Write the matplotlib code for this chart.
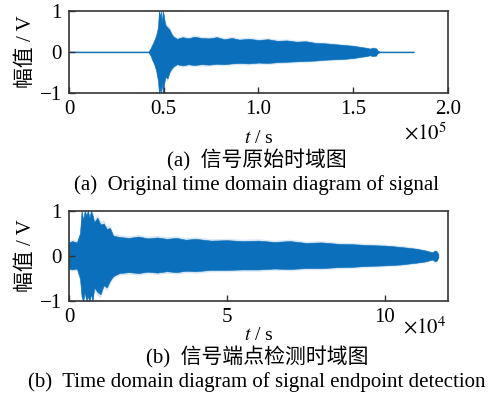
import numpy as np
from matplotlib import pyplot as plt

plt.rcParams['font.family'] = ['Liberation Serif', 'Noto Sans CJK SC']
plt.rcParams['mathtext.fontset'] = 'stix'

# (a) original signal, time in units of 1e5 s, envelope
t_a = [0, 0.42, 0.43, 0.44, 0.45, 0.46, 0.47, 0.475, 0.48, 0.485, 0.49, 0.495,
       0.50, 0.505, 0.51, 0.52, 0.53, 0.54, 0.55, 0.57, 0.60, 0.63, 0.66, 0.70,
       0.74, 0.78, 0.82, 0.86, 0.90, 0.95, 1.00, 1.05, 1.10, 1.15, 1.20, 1.25,
       1.30, 1.35, 1.40, 1.45, 1.50, 1.54, 1.57, 1.59, 1.60, 1.62, 1.63, 1.64, 1.82]
up_a = [0.01, 0.01, 0.08, 0.18, 0.28, 0.4, 0.6, 1.0, 0.85, 1.0, 0.7, 1.0,
        0.9, 0.75, 0.65, 0.6, 0.55, 0.45, 0.38, 0.32, 0.36, 0.33, 0.37, 0.34,
        0.33, 0.36, 0.31, 0.34, 0.30, 0.32, 0.29, 0.31, 0.27, 0.28, 0.25, 0.26,
        0.22, 0.21, 0.19, 0.17, 0.15, 0.12, 0.10, 0.08, 0.10, 0.09, 0.03, 0.01, 0.01]
lo_a = [-0.01, -0.01, -0.08, -0.2, -0.3, -0.45, -0.7, -1.0, -0.9, -1.0, -0.75, -1.0,
        -0.85, -0.7, -0.6, -0.65, -0.5, -0.42, -0.36, -0.30, -0.33, -0.30, -0.32, -0.30,
        -0.31, -0.29, -0.30, -0.28, -0.27, -0.28, -0.26, -0.27, -0.25, -0.24, -0.23, -0.22,
        -0.21, -0.19, -0.18, -0.17, -0.15, -0.12, -0.10, -0.08, -0.10, -0.09, -0.03, -0.01, -0.01]

# (b) after endpoint detection, time in units of 1e4 s
t_b = [0, 0.1, 0.25, 0.35, 0.4, 0.45, 0.5, 0.55, 0.6, 0.65, 0.7, 0.75, 0.8, 0.9,
       1.0, 1.1, 1.2, 1.3, 1.4, 1.6, 1.9, 2.2, 2.5, 2.8, 3.1, 3.4, 3.7, 4.0, 4.5,
       5.0, 5.5, 6.0, 6.5, 7.0, 7.5, 8.0, 8.5, 9.0, 9.5, 10.0, 10.5, 11.0, 11.3,
       11.5, 11.6, 11.65, 11.7]
up_b = [0.3, 0.33, 0.3, 0.5, 1.0, 0.8, 1.0, 0.9, 1.0, 0.85, 1.0, 0.9, 0.75, 0.85,
        0.7, 0.72, 0.6, 0.62, 0.45, 0.42, 0.40, 0.43, 0.39, 0.41, 0.38, 0.40, 0.36,
        0.38, 0.34, 0.35, 0.33, 0.34, 0.31, 0.33, 0.29, 0.30, 0.27, 0.26, 0.24, 0.23,
        0.20, 0.16, 0.12, 0.08, 0.12, 0.10, 0.03]
lo_b = [-0.28, -0.3, -0.28, -0.5, -0.9, -1.0, -0.8, -1.0, -0.9, -1.0, -0.85, -1.0,
        -0.7, -0.8, -0.85, -0.65, -0.7, -0.55, -0.45, -0.38, -0.36, -0.38, -0.35, -0.37,
        -0.34, -0.36, -0.33, -0.34, -0.31, -0.31, -0.30, -0.30, -0.28, -0.29, -0.27,
        -0.27, -0.25, -0.24, -0.22, -0.21, -0.19, -0.15, -0.12, -0.08, -0.12, -0.10, -0.03]

xticks_a = [0, 0.5, 1.0, 1.5, 2.0]
xticklabels_a = ['0', '0.5', '1.0', '1.5', '2.0']
xticks_b = [0, 5, 10]
yticks = [-1, 0, 1]
yticklabels = ['\u22121', '0', '1']

blue = '#0b6fbb'
halo = '#d9e8f5'


def style_axes(ax):
    for s in ax.spines.values():
        s.set_color('#333333')
        s.set_linewidth(1.2)
    ax.tick_params(direction='in', length=4, width=1, color='#333333',
                   labelsize=15, pad=5)
    ax.set_ylim(-1, 1)
    ax.set_yticks(yticks)
    ax.set_yticklabels(yticklabels)
    ax.set_ylabel('幅值 / V', fontsize=15, labelpad=3)


def draw_signal(ax, t, up, lo):
    up = np.array(up)
    lo = np.array(lo)
    ax.fill_between(t, up * 1.08 + 0.015, lo * 1.08 - 0.015, color=halo, lw=0)
    ax.fill_between(t, up, lo, color=blue, lw=0.4, edgecolor=blue)


fig = plt.figure(figsize=(4.96, 4.04), dpi=100)

ax1 = fig.add_axes([0.139, 0.770, 0.764, 0.203])
draw_signal(ax1, t_a, up_a, lo_a)
ax1.set_xlim(0, 2.0)
ax1.set_xticks(xticks_a)
ax1.set_xticklabels(xticklabels_a)
style_axes(ax1)
ax1.set_xlabel(r'$\it{t}$ / s', fontsize=14, labelpad=8)
ax1.text(0.94, -0.50, r'$\times10^{5}$', transform=ax1.transAxes,
         fontsize=15, ha='center', va='center')

ax2 = fig.add_axes([0.139, 0.255, 0.764, 0.223])
draw_signal(ax2, t_b, up_b, lo_b)
ax2.set_xlim(0, 12)
ax2.set_xticks(xticks_b)
style_axes(ax2)
ax2.set_xlabel(r'$\it{t}$ / s', fontsize=14, labelpad=0)
ax2.text(0.94, -0.29, r'$\times10^{4}$', transform=ax2.transAxes,
         fontsize=15, ha='center', va='center')

cx = 257 / 496
fig.text(cx, 1 - 160 / 404, '(a)  信号原始时域图', fontsize=15, ha='center', va='center')
fig.text(cx, 1 - 185 / 404, '(a)  Original time domain diagram of signal',
         fontsize=15, ha='center', va='center')
fig.text(cx, 1 - 357 / 404, '(b)  信号端点检测时域图', fontsize=15, ha='center', va='center')
fig.text(cx, 1 - 382 / 404, '(b)  Time domain diagram of signal endpoint detection',
         fontsize=15, ha='center', va='center')

plt.savefig('out.png', dpi=100)
